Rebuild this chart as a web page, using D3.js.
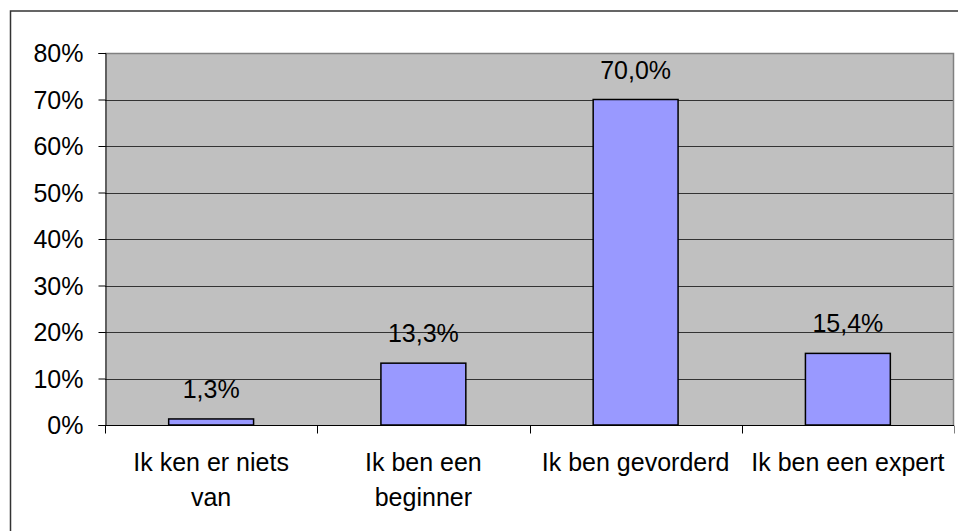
<!DOCTYPE html>
<html>
<head>
<meta charset="utf-8">
<script src="https://cdn.jsdelivr.net/npm/d3@7"></script>
<style>
  body { margin: 0; background: #fff; }
  text { font-family: "Liberation Sans", Arial, sans-serif; fill: #000; }
</style>
</head>
<body>
<script>
let width = 958;
let height = 531;

// data
let categories = [["Ik ken er niets", "van"], ["Ik ben een", "beginner"], ["Ik ben gevorderd"], ["Ik ben een expert"]];
let values = [1.3, 13.3, 70.0, 15.4];
let yTicks = [0, 10, 20, 30, 40, 50, 60, 70, 80];

let margin = {left: 105, right: 4, top: 53, bottom: 106};

let svg = d3.select("body").append("svg")
    .attr("width", width)
    .attr("height", height);

// outer chart border (right and bottom edges fall outside the picture)
svg.append("rect")
    .attr("x", 10.5).attr("y", 11)
    .attr("width", 960).attr("height", 530)
    .attr("fill", "none")
    .attr("stroke", "#333")
    .attr("stroke-width", 1.5);

let x = d3.scaleBand()
    .domain(d3.range(categories.length))
    .range([margin.left, width - margin.right]);

let y = d3.scaleLinear()
    .domain([0, 80])
    .range([height - margin.bottom, margin.top]);

// plot area
svg.append("rect")
    .attr("x", margin.left).attr("y", margin.top)
    .attr("width", width - margin.right - margin.left)
    .attr("height", y(0) - margin.top)
    .attr("fill", "#c0c0c0");

// gridlines
svg.append("g")
    .selectAll("line")
    .data(yTicks.slice(1, -1))
    .enter()
    .append("line")
    .attr("x1", margin.left).attr("x2", width - margin.right)
    .attr("y1", d => Math.round(y(d)) + 0.5).attr("y2", d => Math.round(y(d)) + 0.5)
    .attr("stroke", "#333");

// plot border top/right
svg.append("path")
    .attr("d", `M${margin.left},${Math.round(y(80)) + 0.5}H${width - margin.right - 0.5}V${y(0)}`)
    .attr("fill", "none")
    .attr("stroke", "#808080")
    .attr("stroke-width", 1.5);

// bars
let barW = x.bandwidth() * 0.4;
svg.append("g")
    .selectAll("rect")
    .data(values)
    .enter()
    .append("rect")
    .attr("x", (d, i) => x(i) + (x.bandwidth() - barW) / 2)
    .attr("y", d => y(d))
    .attr("width", barW)
    .attr("height", d => y(0) - y(d))
    .attr("fill", "#9999ff")
    .attr("stroke", "#000")
    .attr("stroke-width", 1.5);

// data labels
svg.append("g")
    .selectAll("text")
    .data(values)
    .enter()
    .append("text")
    .attr("x", (d, i) => x(i) + x.bandwidth() / 2)
    .attr("y", d => y(d) - 21)
    .attr("text-anchor", "middle")
    .style("font-size", "25px")
    .text(d => d.toFixed(1).replace(".", ",") + "%");

// y axis
let yAxis = svg.append("g")
    .attr("transform", `translate(${margin.left + 0.5},0)`)
    .call(d3.axisLeft(y).tickValues(yTicks).tickSize(7).tickPadding(15).tickFormat(d => d + "%"));
yAxis.selectAll("path, line").attr("stroke", "#000");
yAxis.selectAll("text").style("font-size", "25px").attr("dy", "0.35em");

// x axis
let xAxis = svg.append("g")
    .attr("transform", `translate(0,${y(0) + 0.5})`);
xAxis.append("line")
    .attr("x1", margin.left).attr("x2", width - margin.right)
    .attr("stroke", "#000");
xAxis.selectAll(".tick")
    .data(d3.range(categories.length + 1))
    .enter()
    .append("line")
    .attr("x1", d => Math.round(margin.left + d * x.step()) + 0.5)
    .attr("x2", d => Math.round(margin.left + d * x.step()) + 0.5)
    .attr("y1", 0).attr("y2", 8)
    .attr("stroke", d => d === categories.length ? "#808080" : "#000");

let catLabels = xAxis.selectAll(".cat")
    .data(categories)
    .enter()
    .append("text")
    .attr("text-anchor", "middle")
    .style("font-size", "25px");
catLabels.selectAll("tspan")
    .data((d, i) => d.map(t => ({t: t, i: i})))
    .enter()
    .append("tspan")
    .attr("x", d => x(d.i) + x.bandwidth() / 2)
    .attr("y", (d, j) => 45 + j * 35)
    .text(d => d.t);
</script>
</body>
</html>
